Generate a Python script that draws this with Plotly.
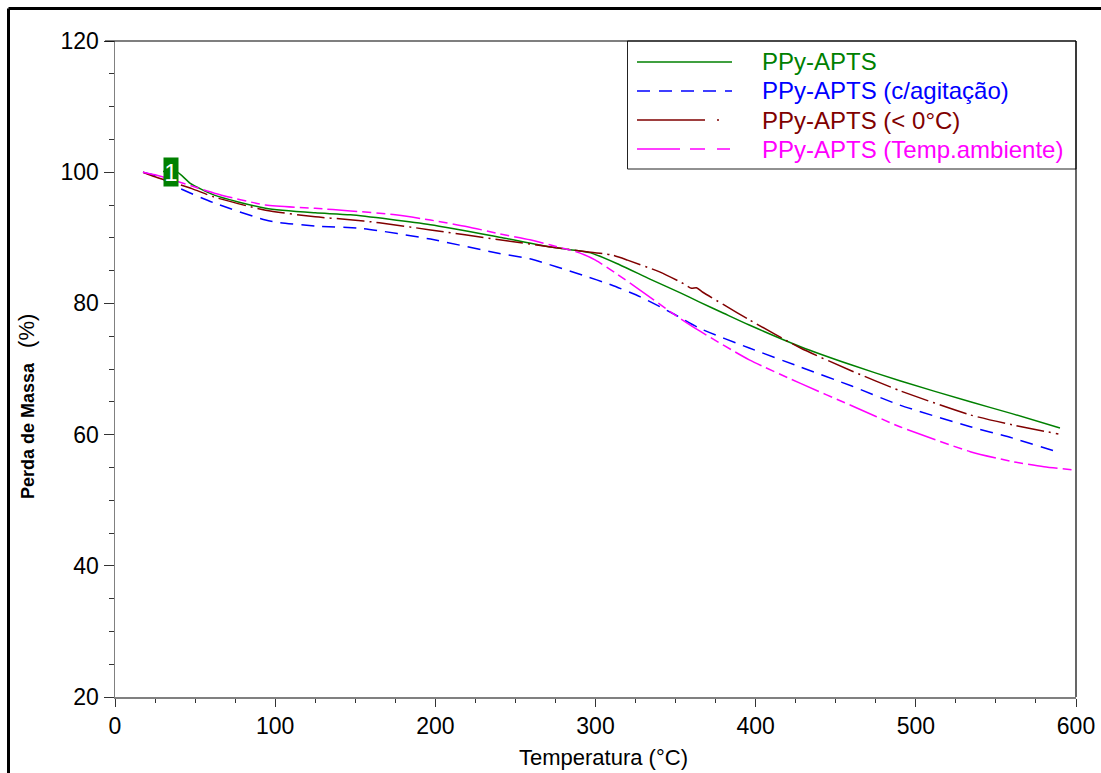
import plotly.graph_objects as go

# ---- data ----
t_green = [30, 39, 47, 62, 94, 125, 147, 197, 240, 272, 297, 315, 334, 353, 365, 380, 396, 428, 460, 490, 534, 560, 590]
m_green = [100.1, 100.0, 98.3, 96.5, 94.5, 93.8, 93.5, 92.0, 90.1, 88.6, 87.7, 85.9, 83.7, 81.6, 80.2, 78.5, 76.7, 73.4, 70.6, 68.2, 65.0, 63.2, 61.0]

t_blue = [17.5, 25, 31, 39, 62, 94, 103, 125, 155, 197, 240, 259, 292, 310, 328, 348, 365, 396, 428, 460, 490, 534, 560, 588]
m_blue = [100.0, 99.5, 98.8, 97.7, 95.3, 92.7, 92.3, 91.8, 91.4, 89.8, 87.6, 86.8, 84.3, 82.8, 81.0, 78.5, 76.2, 73.2, 70.3, 67.4, 64.5, 61.2, 59.5, 57.4]

t_brown = [17.5, 25, 35, 48, 62, 94, 125, 145, 165, 197, 240, 272, 297, 310, 320, 340, 355, 360, 363, 367, 380, 396, 428, 460, 490, 534, 560, 589]
m_brown = [100.0, 99.3, 98.5, 97.5, 96.2, 94.2, 93.2, 92.8, 92.3, 91.2, 89.7, 88.6, 87.8, 87.4, 86.6, 84.8, 83.0, 82.3, 82.4, 81.7, 79.8, 77.5, 73.2, 69.7, 66.7, 63.0, 61.5, 60.1]

t_pink = [17.5, 25, 35, 48, 62, 94, 125, 147, 175, 197, 220, 240, 259, 272, 290, 300, 312, 328, 348, 365, 396, 428, 460, 490, 534, 560, 580, 599]
m_pink = [100.0, 99.6, 98.9, 97.9, 96.8, 95.0, 94.5, 94.1, 93.5, 92.7, 91.7, 90.6, 89.7, 88.9, 87.7, 86.6, 84.7, 82.0, 78.5, 75.8, 71.4, 67.8, 64.4, 61.2, 57.4, 55.9, 55.1, 54.6]

series_names = ["PPy-APTS", "PPy-APTS (c/agitação)", "PPy-APTS (< 0°C)", "PPy-APTS (Temp.ambiente)"]
colors = ["#008000", "#0000FF", "#800000", "#FF00FF"]
plot_dash = ["solid", "13px,8px", "28px,5px,2px,5px", "30px,5px,9px,5px,9px,5px"]
legend_dash = ["solid", "13px,9px", "68px,12px,2px,14px", "43px,10px,15px,12px,13px,100px"]

x_ticks = [0, 100, 200, 300, 400, 500, 600]
y_ticks = [20, 40, 60, 80, 100, 120]

FONT = "Arial, 'Liberation Sans', sans-serif"

fig = go.Figure()
all_t = [t_green, t_blue, t_brown, t_pink]
all_m = [m_green, m_blue, m_brown, m_pink]
for i in range(4):
    fig.add_trace(go.Scatter(
        x=all_t[i], y=all_m[i], mode="lines", name=series_names[i],
        line=dict(color=colors[i], width=1.5, dash=plot_dash[i], shape="spline", smoothing=0.6),
        showlegend=False,
    ))

# figure fills the page (body margin removed in post_script)
W, H = 1101, 773
# plot area in page pixels: x 115..1076, y 41..697
PL, PR, PT, PB = 115, 1076, 41, 697
L, T = PL, PT
R = W - PR
B = H - PB
pw, ph = PR - PL, PB - PT

def px(xp):
    return (xp - PL) / pw

def py(yp):
    return (PB - yp) / ph

shapes = []
# plot border (top & right black)
shapes.append(dict(type="line", xref="paper", yref="paper", x0=px(105), x1=1, y0=1, y1=1,
                   line=dict(color="black", width=1.2)))
shapes.append(dict(type="line", xref="paper", yref="paper", x0=1, x1=1, y0=0, y1=1,
                   line=dict(color="black", width=1.2)))
# outer frame of the picture (left & top)
shapes.append(dict(type="line", xref="paper", yref="paper", x0=px(8.5), x1=px(1110), y0=py(8.5), y1=py(8.5),
                   line=dict(color="black", width=3)))
shapes.append(dict(type="line", xref="paper", yref="paper", x0=px(8.5), x1=px(8.5), y0=py(8.5), y1=py(790),
                   line=dict(color="black", width=3)))
# legend box
shapes.append(dict(type="rect", xref="paper", yref="paper", x0=px(627.5), x1=1, y0=py(169), y1=1,
                   line=dict(color="#222", width=1), fillcolor="white", layer="below"))

annotations = []
row_y = [62, 91, 120, 149]
for i in range(4):
    shapes.append(dict(type="line", xref="paper", yref="paper", x0=px(637), x1=px(732),
                       y0=py(row_y[i]), y1=py(row_y[i]),
                       line=dict(color=colors[i], width=1.5, dash=legend_dash[i])))
    annotations.append(dict(xref="paper", yref="paper", x=px(760), y=py(row_y[i]), xanchor="left",
                            yanchor="middle", showarrow=False, text=series_names[i],
                            font=dict(family=FONT, size=24, color=colors[i])))

# marker "1"
annotations.append(dict(x=34.7, y=100.1, xref="x", yref="y", text="1", showarrow=False,
                        bgcolor="#008000", width=14, height=28, borderpad=0,
                        font=dict(family=FONT, size=24, color="white")))

# axis titles
annotations.append(dict(xref="paper", yref="paper", x=px(603), y=py(757), text="Temperatura (°C)",
                        showarrow=False, xanchor="center", yanchor="middle",
                        font=dict(family=FONT, size=22, color="black")))
annotations.append(dict(xref="paper", yref="paper", x=px(27), y=py(407), textangle=-90,
                        text="<b>Perda de Massa</b>\u00a0\u00a0\u00a0<span style='font-size:22px'>(%)</span>",
                        showarrow=False, xanchor="center", yanchor="middle",
                        font=dict(family=FONT, size=18, color="black")))

fig.update_layout(
    width=W, height=H, autosize=False,
    margin=dict(l=L, r=R, t=T, b=B, pad=0, autoexpand=False),
    paper_bgcolor="white", plot_bgcolor="white",
    font=dict(family=FONT, color="black"),
    shapes=shapes, annotations=annotations,
    showlegend=False,
)
fig.update_xaxes(
    range=[0, 600], tickvals=x_ticks, ticktext=[str(v) for v in x_ticks], automargin=False,
    showgrid=False, zeroline=False, showline=True, linecolor="#808080", linewidth=1.5,
    ticks="outside", ticklen=8, tickcolor="#333", tickwidth=1,
    tickfont=dict(family=FONT, size=23, color="black"),
    minor=dict(ticks="outside", ticklen=4, dtick=25, tickcolor="#333", showgrid=False),
)
fig.update_yaxes(
    range=[20, 120], tickvals=y_ticks, ticktext=[str(v) for v in y_ticks], automargin=False,
    showgrid=False, zeroline=False, showline=True, linecolor="#808080", linewidth=1.5,
    ticks="outside", ticklen=10, tickcolor="#333", tickwidth=1,
    tickfont=dict(family=FONT, size=23, color="black"),
    minor=dict(ticks="outside", ticklen=5, dtick=5, tickcolor="#333", showgrid=False),
)

fig.write_html(
    "out.html",
    config={"displayModeBar": False, "staticPlot": True},
    post_script="document.body.style.margin='0';document.body.style.overflow='hidden';"
                "document.documentElement.style.overflow='hidden';",
)
